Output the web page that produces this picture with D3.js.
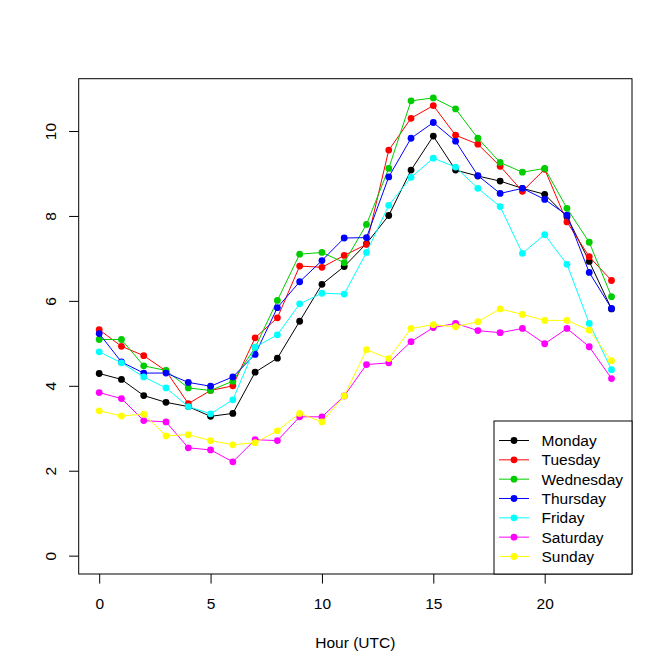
<!DOCTYPE html>
<html>
<head>
<meta charset="utf-8">
<script src="https://cdn.jsdelivr.net/npm/d3@7"></script>
<style>
  body { margin: 0; background: #fff; }
  svg { display: block; font-family: "Liberation Sans", Arial, sans-serif; }
</style>
</head>
<body>
<svg id="chart" width="672" height="672"></svg>
<script>
// hours 0..23
const hours = d3.range(0, 24);
const days = ['Monday', 'Tuesday', 'Wednesday', 'Thursday', 'Friday', 'Saturday', 'Sunday'];

const monday    = [4.29, 4.15, 3.77, 3.61, 3.51, 3.28, 3.35, 4.32, 4.65, 5.52, 6.39, 6.81, 7.35, 8.01, 9.08, 9.88, 9.08, 8.94, 8.82, 8.65, 8.51, 7.98, 6.93, 5.81];
const tuesday   = [5.32, 4.93, 4.71, 4.35, 3.58, 3.89, 4.00, 5.13, 5.60, 6.82, 6.79, 7.07, 7.33, 9.55, 10.30, 10.60, 9.90, 9.69, 9.17, 8.58, 9.10, 7.86, 7.04, 6.48];
const wednesday = [5.09, 5.09, 4.47, 4.36, 3.95, 3.89, 4.11, 4.90, 6.01, 7.10, 7.14, 6.90, 7.80, 9.12, 10.71, 10.78, 10.52, 9.83, 9.26, 9.03, 9.12, 8.18, 7.38, 6.10];
const thursday  = [5.23, 4.56, 4.30, 4.30, 4.08, 3.99, 4.21, 4.74, 5.84, 6.45, 6.95, 7.48, 7.49, 8.92, 9.83, 10.20, 9.76, 8.95, 8.53, 8.65, 8.39, 8.02, 6.67, 5.82];
const friday    = [4.80, 4.54, 4.21, 3.95, 3.51, 3.34, 3.67, 4.91, 5.20, 5.93, 6.18, 6.16, 7.14, 8.25, 8.91, 9.36, 9.15, 8.65, 8.22, 7.12, 7.56, 6.86, 5.47, 4.38];
const saturday  = [3.84, 3.70, 3.18, 3.15, 2.54, 2.49, 2.21, 2.73, 2.71, 3.27, 3.27, 3.76, 4.50, 4.54, 5.04, 5.37, 5.47, 5.30, 5.25, 5.35, 4.99, 5.35, 4.92, 4.17];
const sunday    = [3.41, 3.29, 3.33, 2.82, 2.85, 2.71, 2.61, 2.66, 2.94, 3.35, 3.15, 3.76, 4.85, 4.64, 5.35, 5.44, 5.39, 5.51, 5.81, 5.68, 5.54, 5.54, 5.31, 4.59];

const series = [monday, tuesday, wednesday, thursday, friday, saturday, sunday];
const colors = ['#000000', '#FF0000', '#00CD00', '#0000FF', '#00FFFF', '#FF00FF', '#FFFF00'];

const xTicks = [0, 5, 10, 15, 20];
const yTicks = [0, 2, 4, 6, 8, 10];

// R style plot region (mar = 5.1, 4.1, 4.1, 2.1 lines of 19.2px)
const plotL = 78.7, plotR = 632, plotT = 78.7, plotB = 574;
const fontSize = '15.5px';

const x = d3.scaleLinear()
  .domain([-0.92, 23.92])
  .range([plotL, plotR]);

const y = d3.scaleLinear()
  .domain([-0.432, 11.232])
  .range([plotB, plotT]);

const svg = d3.select('#chart');

svg.append('rect')
  .attr('width', 672)
  .attr('height', 672)
  .attr('fill', '#fff');

// x axis
const xAxis = svg.append('g')
  .attr('transform', 'translate(0,' + plotB + ')')
  .call(d3.axisBottom(x).tickValues(xTicks).tickSize(9.6).tickPadding(14.5).tickSizeOuter(0));

// y axis
const yAxis = svg.append('g')
  .attr('transform', 'translate(' + plotL + ',0)')
  .call(d3.axisLeft(y).tickValues(yTicks).tickSize(9.6).tickSizeOuter(0));

[xAxis, yAxis].forEach((a) => {
  a.select('.domain').remove();
  a.selectAll('line').attr('stroke', '#000').attr('stroke-width', 1);
  a.selectAll('text')
    .attr('fill', '#000')
    .style('font-size', fontSize)
    .style('font-family', '"Liberation Sans", Arial, sans-serif');
});

// rotated y labels like R's las = 0
yAxis.selectAll('text')
  .attr('x', null)
  .attr('dy', null)
  .attr('text-anchor', 'middle')
  .attr('transform', 'translate(-22.5,0) rotate(-90)');

// box around plot
svg.append('rect')
  .attr('x', plotL)
  .attr('y', plotT)
  .attr('width', plotR - plotL)
  .attr('height', plotB - plotT)
  .attr('fill', 'none')
  .attr('stroke', '#000')
  .attr('stroke-width', 1);

svg.append('text')
  .attr('x', (plotL + plotR) / 2)
  .attr('y', 648)
  .attr('text-anchor', 'middle')
  .style('font-size', fontSize)
  .text('Hour (UTC)');

const line = d3.line()
  .x((d, i) => x(hours[i]))
  .y((d) => y(d));

series.forEach((s, k) => {
  const g = svg.append('g');
  g.append('path')
    .datum(s)
    .attr('d', line)
    .attr('fill', 'none')
    .attr('stroke', colors[k])
    .attr('stroke-width', 1);
  g.selectAll('circle')
    .data(s)
    .enter()
    .append('circle')
    .attr('cx', (d, i) => x(hours[i]))
    .attr('cy', (d) => y(d))
    .attr('r', 3.4)
    .attr('fill', colors[k]);
});

// legend (bottomright)
const lineH = 19.33;
const legW = 138, legH = 153;
const legX = plotR - legW, legY = plotB - legH;

const legend = svg.append('g');
legend.append('rect')
  .attr('x', legX)
  .attr('y', legY)
  .attr('width', legW)
  .attr('height', legH)
  .attr('fill', '#fff')
  .attr('stroke', '#000')
  .attr('stroke-width', 1);

const item = legend.selectAll('g.item')
  .data(days)
  .enter()
  .append('g')
  .attr('class', 'item')
  .attr('transform', (d, i) => 'translate(' + legX + ',' + (legY + 19.5 + i * lineH) + ')');

item.append('line')
  .attr('x1', 5)
  .attr('x2', 35)
  .attr('stroke', (d, i) => colors[i])
  .attr('stroke-width', 1);

item.append('circle')
  .attr('cx', 20)
  .attr('r', 3.4)
  .attr('fill', (d, i) => colors[i]);

item.append('text')
  .attr('x', 47.5)
  .attr('dy', '0.36em')
  .style('font-size', fontSize)
  .text((d) => d);
</script>
</body>
</html>
